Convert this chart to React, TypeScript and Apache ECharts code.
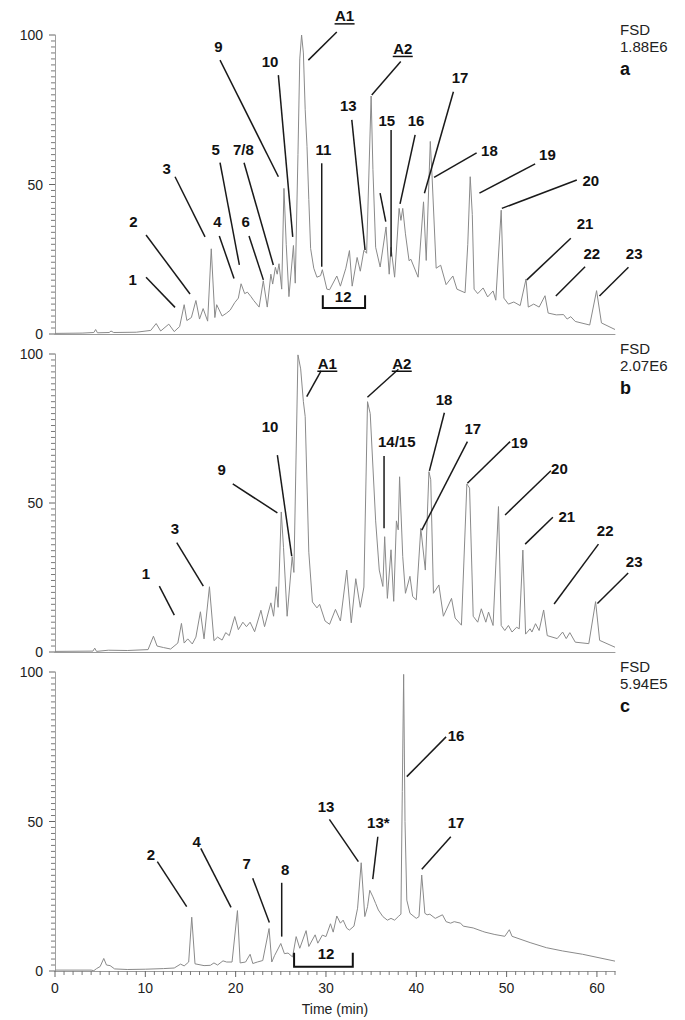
import React, { useEffect, useRef } from "react";
import * as echarts from "echarts";

// ---- axis ticks ----
const xMax = 62;
const xInterval = 10;
const yMax = 100;
const yInterval = 50;
const xMinorStep = 1;
const yMinorStep = 2;

// ---- panel captions ----
const panelLetters = ["a", "b", "c"];
const fsdValues = ["1.88E6", "2.07E6", "5.94E5"];

// ---- chromatogram traces: [time (min), relative abundance (%)] ----
const traceA: number[][] = [
  [0, 0.2], [3, 0.3], [4.3, 0.5], [4.5, 1.5], [4.7, 0.4], [6.0, 0.5], [6.2, 1.0], [6.5, 0.5], [9, 0.6],
  [10.6, 1.2], [11.2, 3.5], [11.7, 1.0], [12.6, 3.3], [13.2, 0.8], [13.8, 2.5], [14.3, 9.8], [14.6, 4.5],
  [15.1, 5.5], [15.6, 11.2], [16.0, 5.0], [16.4, 8.5], [16.9, 4.3], [17.3, 28.5], [17.7, 5.5], [17.9, 9.8],
  [18.5, 6.0], [19.0, 7.0], [19.4, 8.0], [19.9, 10.5], [20.3, 12], [20.6, 16.8], [21.0, 13.5], [21.3, 14.0],
  [21.7, 12.5], [22.0, 11.2], [22.6, 9.0], [23.06, 17.8], [23.5, 9.0], [23.9, 20.0], [24.1, 16.7],
  [24.4, 22.3], [24.6, 20.0], [24.8, 23.5], [25.1, 15.0], [25.35, 48.7], [25.6, 30], [25.9, 12.5],
  [26.4, 29.6], [26.6, 17.0], [26.9, 60], [27.1, 92], [27.3, 100], [27.5, 94], [27.7, 75], [27.9, 62.7],
  [28.1, 45], [28.3, 28.6], [28.65, 22.0], [29.0, 19.0], [29.4, 19.5], [29.6, 21.5], [30.1, 15.0],
  [30.4, 14.8], [31.2, 19.4], [31.6, 16], [32.2, 22], [32.6, 27.9], [32.9, 16], [33.45, 25.6], [33.8, 21],
  [34.2, 28], [34.5, 27], [35.0, 79.6], [35.2, 55], [35.5, 29], [36.0, 22.4], [36.65, 35.8], [37.0, 20],
  [37.2, 29], [37.6, 19], [38.1, 42], [38.3, 38], [38.5, 42], [38.8, 33.5], [39.2, 24.5], [39.4, 25],
  [40.2, 19], [40.8, 44.2], [41.1, 24.6], [41.55, 64.4], [41.75, 52.5], [42.2, 22], [42.7, 23],
  [43.3, 16.5], [44.05, 19.4], [44.5, 15], [45.4, 13.8], [45.7, 30], [45.97, 52.6], [46.2, 40], [46.4, 15],
  [46.8, 13.5], [47.4, 15.4], [47.9, 12.4], [48.5, 14.4], [48.8, 11.3], [49.4, 41.4], [49.7, 12],
  [50.2, 10], [50.8, 10.7], [51.5, 9.5], [52.15, 18.4], [52.4, 9], [53.0, 10], [53.6, 9], [54.25, 12.8],
  [54.6, 7], [55.5, 6.4], [56.3, 6.5], [56.7, 5], [57.1, 5.8], [57.6, 4.2], [59.2, 3], [59.96, 14.5],
  [60.5, 3.7], [62, 1.5],
];

const traceB: number[][] = [
  [0, 0.2], [4.2, 0.3], [4.4, 1.3], [4.6, 0.2], [5.9, 0.6], [8, 0.5], [10.3, 0.8], [10.9, 5.3], [11.3, 2.0],
  [12.0, 1.5], [12.8, 1.0], [13.6, 3], [14.0, 9.6], [14.3, 3.0], [14.7, 4.4], [15.2, 2.7], [15.6, 5],
  [16.1, 13.5], [16.5, 4.4], [17.1, 21.9], [17.6, 3.8], [18.0, 5.0], [18.5, 4.0], [18.9, 6.5], [19.3, 5.5],
  [19.9, 11.9], [20.3, 7.5], [20.8, 10], [21.2, 8.5], [21.6, 10], [22.1, 6.8], [22.8, 14], [23.2, 8.5],
  [23.9, 16.5], [24.2, 12], [24.5, 21.9], [24.7, 15], [25.05, 47], [25.3, 35], [25.7, 12], [26.26, 32],
  [26.45, 26.7], [26.9, 99.7], [27.2, 95], [27.5, 84], [27.7, 79], [28.1, 33.5], [28.5, 16.8], [29.0, 14.8],
  [29.3, 16], [29.9, 10.4], [30.4, 9.3], [31.05, 14.3], [31.6, 10.4], [32.3, 27.5], [32.8, 9.8],
  [33.3, 24.6], [33.8, 15], [34.2, 21.8], [34.6, 84], [34.9, 80], [35.5, 44], [35.9, 27.5], [36.3, 22],
  [36.5, 38.7], [36.8, 18], [37.2, 34.3], [37.5, 17], [37.8, 44], [38.0, 41], [38.15, 58.8], [38.5, 32],
  [38.8, 19.7], [39.3, 25.4], [39.6, 18.6], [40.0, 17.5], [40.5, 41.5], [41.0, 27.5], [41.4, 60.5],
  [41.6, 57.8], [41.9, 19.7], [42.5, 22.5], [43.0, 12], [43.9, 18], [44.3, 11.4], [45.0, 9], [45.6, 56.4],
  [45.9, 55], [46.3, 12], [46.8, 10], [47.2, 14.5], [47.7, 10], [48.0, 13.4], [48.5, 8.9], [49.1, 48.8],
  [49.4, 8.9], [49.8, 7.2], [50.2, 8.9], [50.6, 6.7], [51.1, 8.3], [51.4, 7.8], [51.8, 34.2], [52.1, 6],
  [52.6, 7.8], [52.8, 6.7], [53.2, 9.5], [53.6, 7.2], [54.1, 14.1], [54.5, 5.5], [55.6, 4.5], [56.2, 6.7],
  [56.6, 4.5], [57.0, 6.5], [57.6, 3.3], [59.1, 2.8], [59.85, 16.9], [60.3, 3.9], [62, 1.6],
];

const traceC: number[][] = [
  [0, 0.3], [4.0, 0.3], [4.3, 0.1], [4.6, 0.8], [5.0, 1.5], [5.4, 4.2], [5.7, 2.0], [6.1, 1.8], [6.6, 0.7],
  [8, 0.5], [10, 0.6], [12, 0.8], [13.2, 1.0], [13.9, 2.3], [14.3, 1.7], [14.8, 3], [15.14, 18], [15.5, 2.4],
  [16.5, 1.8], [17.2, 1.9], [17.6, 2.7], [18.0, 2.0], [18.6, 3.4], [19.0, 3.0], [19.6, 3.0], [20.2, 20.2],
  [20.5, 2.7], [21.1, 3.0], [21.6, 5.6], [21.9, 2.5], [22.4, 3.0], [23.0, 3.5], [23.7, 14.2], [24.0, 3.0],
  [24.3, 5.1], [25.0, 9.2], [25.4, 5.8], [25.8, 6.0], [26.3, 4.7], [26.7, 11.5], [27.1, 7.6], [27.8, 13.5],
  [28.1, 8.2], [28.8, 12.1], [29.1, 9.3], [29.6, 12.0], [30.0, 11.5], [30.5, 15.8], [30.8, 13.0],
  [31.2, 18.4], [31.6, 16], [31.9, 17], [32.3, 14.3], [32.6, 13.7], [33.1, 15], [33.5, 21], [33.9, 36.2],
  [34.3, 18.2], [34.6, 21.5], [34.85, 27], [35.2, 24.8], [35.5, 22.6], [35.8, 20.4], [36.3, 18.2],
  [36.8, 17], [37.2, 17.6], [37.6, 17], [38.0, 18.2], [38.3, 19], [38.45, 60], [38.6, 99.2], [38.75, 50],
  [38.95, 23.7], [39.3, 19.3], [40.0, 17.6], [40.3, 18.2], [40.6, 32.1], [40.95, 19.3], [41.2, 18.8],
  [41.5, 19], [42.1, 17.6], [42.9, 18.8], [43.3, 16.5], [43.8, 16], [44.2, 16.5], [44.9, 16], [45.2, 15],
  [46.3, 14.4], [47.3, 13.3], [47.6, 13], [48.7, 12.2], [49.8, 11.6], [50.3, 13.8], [50.6, 11.6],
  [52.6, 9.5], [54.4, 7.8], [56.2, 6.7], [58.4, 5.6], [62, 3.3],
];

// ---- peak annotations: [text, labelT, labelY, lineFromT, lineFromY, lineToT, lineToY] ----
type Ann = [string, number, number, number | null, number | null, number | null, number | null];

const annA: Ann[] = [
  ["1", 8.6, 18.3, 10.08, 19.0, 13.29, 8.9],
  ["2", 8.67, 37.6, 10.08, 33.1, 14.95, 13.4],
  ["3", 12.37, 55.4, 13.29, 52.6, 16.61, 32.5],
  ["4", 17.97, 37.6, 18.19, 32.8, 19.82, 18.6],
  ["5", 17.8, 61.8, 18.27, 57.3, 20.41, 23.1],
  ["6", 21.12, 37.6, 21.48, 32.8, 23.07, 18.1],
  ["7/8", 20.85, 61.8, 20.93, 57.3, 24.17, 23.1],
  ["9", 18.08, 96.1, 18.27, 91.6, 24.73, 52.6],
  ["10", 23.81, 91.1, 24.73, 86.6, 26.32, 32.5],
  ["11", 29.71, 61.8, 29.53, 57.1, 29.53, 22.5],
  ["A1", 32.06, 106.4, 31.2, 101.0, 28.05, 91.6],
  ["A2", 38.5, 95.5, 38.28, 91.1, 35.07, 79.9],
  ["13", 32.48, 76.3, 32.86, 71.6, 34.33, 28.1],
  ["15", 36.73, 71.3, 37.21, 68.2, 37.21, 25.9],
  ["", 36.3, 42.0, 35.99, 47.1, 36.62, 37.6],
  ["16", 39.98, 71.3, 39.87, 66.6, 38.2, 43.5],
  ["17", 44.85, 85.9, 44.11, 81.0, 40.9, 47.1],
  ["18", 48.1, 61.3, 46.68, 60.6, 41.97, 52.4],
  ["19", 54.52, 59.9, 53.16, 56.9, 46.99, 47.1],
  ["20", 59.32, 51.2, 57.77, 51.5, 49.47, 42.0],
  ["21", 58.69, 36.8, 57.11, 32.0, 52.24, 18.1],
  ["22", 59.43, 27.0, 58.69, 22.5, 55.45, 12.7],
  ["23", 64.12, 27.0, 63.49, 22.3, 60.28, 12.7],
  ["12", 31.9, 12.6, null, null, null, null],
];

const annB: Ann[] = [
  ["1", 10.08, 26.4, 11.55, 22.1, 13.21, 12.4],
  ["3", 13.29, 41.5, 13.48, 36.7, 16.42, 22.1],
  ["9", 18.46, 61.1, 19.68, 56.4, 24.62, 46.7],
  ["10", 23.81, 75.6, 24.62, 66.1, 26.21, 32.2],
  ["A1", 30.15, 96.9, 29.46, 94.3, 27.87, 85.7],
  ["A2", 38.39, 96.9, 38.02, 94.9, 34.59, 85.5],
  ["14/15", 37.84, 70.6, 36.43, 65.8, 36.43, 41.5],
  ["18", 43.08, 84.8, 43.11, 80.3, 41.45, 60.8],
  ["17", 46.26, 75.1, 45.66, 70.6, 40.61, 40.9],
  ["19", 51.42, 70.2, 50.39, 70.6, 45.66, 56.6],
  ["20", 55.85, 61.6, 54.9, 60.8, 49.83, 46.0],
  ["21", 56.67, 45.4, 55.12, 45.2, 52.05, 36.2],
  ["22", 60.91, 40.7, 60.17, 36.2, 55.26, 16.1],
  ["23", 64.12, 30.3, 63.46, 26.5, 60.05, 16.3],
];

const annC: Ann[] = [
  ["2", 10.63, 38.8, 11.33, 36.6, 14.58, 21.5],
  ["4", 15.69, 43.2, 16.14, 41.0, 19.49, 21.3],
  ["7", 21.23, 35.8, 21.89, 31.0, 23.73, 16.2],
  ["8", 25.47, 33.8, 25.1, 29.5, 25.1, 11.5],
  ["13", 30.01, 54.9, 30.38, 50.7, 33.59, 36.6],
  ["13*", 35.8, 49.6, 35.74, 44.9, 35.18, 30.7],
  ["16", 44.41, 78.9, 43.3, 78.3, 38.95, 65.0],
  ["17", 44.41, 49.6, 43.82, 44.9, 40.61, 34.0],
  ["12", 30.01, 5.9, null, null, null, null],
];

// ---- brackets for group 12: [startT, endT, bottomY, topY] ----
const bracketA = [29.65, 34.33, 8.7, 13.0];
const bracketC = [26.47, 32.97, 1.4, 6.1];

const FONT = "Liberation Sans, Arial, Helvetica, sans-serif";

const grids = [
  { left: 55, width: 560, top: 35, height: 299 },
  { left: 55, width: 560, top: 354, height: 298 },
  { left: 55, width: 560, top: 672, height: 299 },
];

function annSeries(list: Ann[], idx: number) {
  return {
    type: "custom",
    xAxisIndex: idx,
    yAxisIndex: idx,
    clip: false,
    silent: true,
    z: 5,
    data: list.map((a) => [a[1], a[2]]),
    encode: { x: 0, y: 1 },
    renderItem: (params: any, api: any) => {
      const a = list[params.dataIndex];
      const children: any[] = [];
      const p = api.coord([a[1], a[2]]);
      if (a[3] != null) {
        const s = api.coord([a[3], a[4]]);
        const e = api.coord([a[5], a[6]]);
        children.push({
          type: "line",
          shape: { x1: s[0], y1: s[1], x2: e[0], y2: e[1] },
          style: { stroke: "#1a1a1a", lineWidth: 1.5 },
        });
      }
      if (a[0]) {
        children.push({
          type: "text",
          x: p[0],
          y: p[1],
          style: {
            text: a[0],
            align: "center",
            verticalAlign: "middle",
            font: `bold 15px ${FONT}`,
            fill: "#111",
          },
        });
        if (a[0].startsWith("A")) {
          children.push({
            type: "line",
            shape: { x1: p[0] - 10, y1: p[1] + 8, x2: p[0] + 10, y2: p[1] + 8 },
            style: { stroke: "#111", lineWidth: 1.5 },
          });
        }
      }
      return { type: "group", children };
    },
  };
}

function bracketSeries(b: number[], idx: number) {
  return {
    type: "custom",
    xAxisIndex: idx,
    yAxisIndex: idx,
    clip: false,
    silent: true,
    z: 5,
    data: [b],
    encode: { x: [0, 1], y: [2, 3] },
    renderItem: (_params: any, api: any) => {
      const p1 = api.coord([api.value(0), api.value(3)]);
      const p2 = api.coord([api.value(0), api.value(2)]);
      const p3 = api.coord([api.value(1), api.value(2)]);
      const p4 = api.coord([api.value(1), api.value(3)]);
      return {
        type: "polyline",
        shape: { points: [p1, p2, p3, p4] },
        style: { stroke: "#111", lineWidth: 2, fill: null },
      };
    },
  };
}

// tick marks drawn through the axis scales (vertical: along y axis; horizontal: along x axis)
function tickSeries(idx: number, vertical: boolean) {
  const vals: number[] = [];
  const step = vertical ? yMinorStep : xMinorStep;
  const max = vertical ? yMax : xMax;
  const major = vertical ? yInterval : xInterval;
  for (let v = 0; v <= max + 1e-9; v += step) vals.push(v);
  return {
    type: "custom",
    xAxisIndex: idx,
    yAxisIndex: idx,
    clip: false,
    silent: true,
    z: 4,
    data: vals.map((v) => (vertical ? [0, v] : [v, 0])),
    encode: { x: 0, y: 1 },
    renderItem: (params: any, api: any) => {
      const v = vals[params.dataIndex];
      const p = api.coord(vertical ? [0, v] : [v, 0]);
      const isMajor = Math.abs(v % major) < 1e-9;
      const len = isMajor ? 6 : 4;
      const shape = vertical
        ? { x1: p[0] - len, y1: p[1], x2: p[0], y2: p[1] }
        : { x1: p[0], y1: p[1], x2: p[0], y2: p[1] + len };
      return {
        type: "line",
        shape,
        style: { stroke: isMajor ? "#666" : "#7a7a7a", lineWidth: 1 },
      };
    },
  };
}

export default function App() {
  const ref = useRef<HTMLDivElement>(null);

  useEffect(() => {
    document.body.style.margin = "0";
    if (!ref.current) return;
    const chart = echarts.init(ref.current, undefined, { renderer: "svg" });

    const traces = [traceA, traceB, traceC];
    const anns = [annA, annB, annC];

    const xAxes = grids.map((_, i) => ({
      type: "value",
      gridIndex: i,
      min: 0,
      max: xMax,
      interval: xInterval,
      splitLine: { show: false },
      axisLine: { show: true, lineStyle: { color: "#9a9a9a", width: 1 } },
      axisTick: { show: false },
      axisLabel: {
        show: i === 2,
        color: "#222",
        fontSize: 14,
        fontFamily: FONT,
        margin: 10,
        showMaxLabel: false,
      },
      name: i === 2 ? "Time (min)" : "",
      nameLocation: "middle",
      nameGap: 31,
      nameTextStyle: { color: "#222", fontSize: 14, fontFamily: FONT },
    }));

    const yAxes = grids.map((_, i) => ({
      type: "value",
      gridIndex: i,
      min: 0,
      max: yMax,
      interval: yInterval,
      splitLine: { show: false },
      axisLine: { show: true, lineStyle: { color: "#a0a0a0", width: 1 } },
      axisTick: { show: false },
      axisLabel: { color: "#222", fontSize: 14, fontFamily: FONT, margin: 12 },
    }));

    const series: any[] = [];
    traces.forEach((t, i) => {
      series.push({
        type: "line",
        xAxisIndex: i,
        yAxisIndex: i,
        data: t,
        showSymbol: false,
        symbol: "none",
        silent: true,
        z: 2,
        lineStyle: { color: "#8a8a8a", width: 1 },
      });
      series.push(annSeries(anns[i], i));
      series.push(tickSeries(i, true));
    });
    series.push(tickSeries(2, false));
    series.push(bracketSeries(bracketA, 0));
    series.push(bracketSeries(bracketC, 2));

    const graphic: any[] = [];
    grids.forEach((g, i) => {
      graphic.push({
        type: "text",
        left: 620,
        top: g.top - 14,
        style: {
          text: "FSD\n" + fsdValues[i],
          font: `15px ${FONT}`,
          fill: "#222",
          lineHeight: 17,
        },
      });
      graphic.push({
        type: "text",
        left: 620,
        top: g.top + 25,
        style: { text: panelLetters[i], font: `bold 18px ${FONT}`, fill: "#111" },
      });
    });

    chart.setOption({
      animation: false,
      backgroundColor: "#ffffff",
      grid: grids,
      xAxis: xAxes,
      yAxis: yAxes,
      series,
      graphic,
    });

    return () => chart.dispose();
  }, []);

  return <div ref={ref} style={{ width: 685, height: 1020 }} />;
}
